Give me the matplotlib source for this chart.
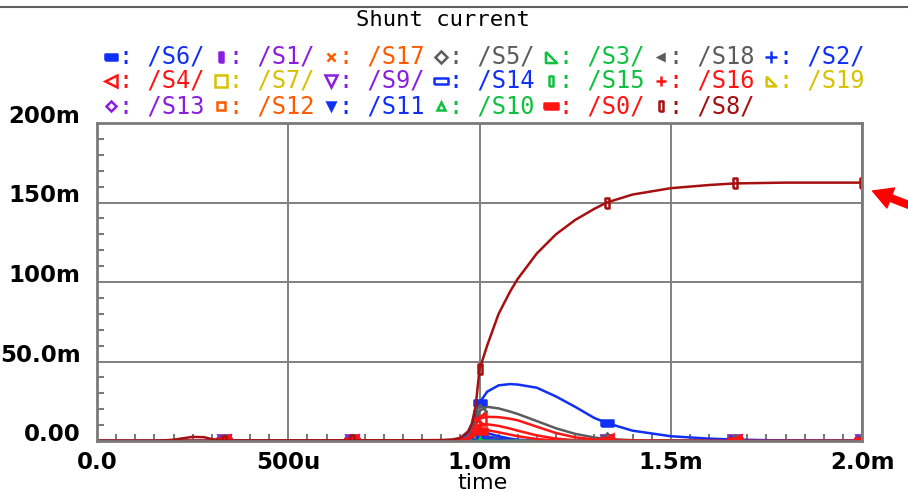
import matplotlib
matplotlib.use("Agg")
import matplotlib.pyplot as plt
from matplotlib.lines import Line2D
from matplotlib.ticker import MultipleLocator

W, H = 908, 492

# time axis in ms, currents in mA
t_ms = [0.0, 0.15, 0.2, 0.25, 0.28, 0.3, 0.333, 0.5,
        0.667, 0.8, 0.9, 0.93, 0.95, 0.97, 0.98, 0.99,
        1.0, 1.02, 1.05, 1.08, 1.1, 1.15, 1.2, 1.25,
        1.3, 1.333, 1.4, 1.5, 1.6, 1.667, 1.8, 2.0]

s8 = [0, 0, 0.8, 2.6, 2.4, 1.2, 0.3, 0.3,
      0.4, 0.4, 0.6, 1.0, 2.0, 6.0, 11, 22,
      45, 60, 80, 94, 102, 118, 130, 139,
      146, 150, 155, 159, 161, 162, 162.5, 162.5]
s6 = [0, 0, 0, 0, 0, 0, 0, 0,
      0, 0, 0, 0, 1.0, 5.0, 10, 17,
      24, 31, 35, 35.8, 35.5, 33.5, 28, 21.5,
      14.5, 11.3, 6.5, 3.0, 1.5, 0.9, 0.3, 0.1]
s5 = [0, 0, 0, 0, 0, 0, 0, 0,
      0, 0, 0, 0, 0.5, 3.0, 7.0, 13,
      19, 21.5, 20.5, 18.5, 17, 12.5, 8.0, 4.5,
      2.2, 1.3, 0.5, 0.1, 0, 0, 0, 0]
s4 = [0, 0, 0, 0, 0, 0, 0, 0,
      0, 0, 0, 0, 0.3, 2.0, 5.0, 10,
      14, 15.2, 15, 14, 13, 9.0, 5.0, 2.3,
      1.0, 0.5, 0.2, 0, 0, 0, 0, 0]
s16 = [0, 0, 0, 0, 0, 0, 0, 0,
       0, 0, 0, 0, 0, 1.5, 3.5, 7.0,
       10, 10.5, 9.5, 7.8, 6.5, 3.5, 1.5, 0.5,
       0.2, 0, 0, 0, 0, 0, 0, 0]
s0 = [0, 0, 0, 0, 0, 0, 0, 0,
      0, 0, 0, 0, 0, 1.0, 2.5, 4.5,
      6.5, 6.8, 5.5, 4.0, 3.0, 1.2, 0.4, 0,
      0, 0, 0, 0, 0, 0, 0, 0]
s2 = [0, 0, 0, 0, 0, 0, 0, 0,
      0, 0, 0, 0, 0, 1.0, 2.5, 4.0,
      5.5, 5.0, 3.0, 1.5, 0.8, 0.2, 0, 0,
      0, 0, 0, 0, 0, 0, 0, 0]
s14 = [0, 0, 0, 0, 0, 0, 0, 0,
       0, 0, 0, 0, 0, 0, 1.0, 2.0,
       3.0, 2.5, 1.2, 0.5, 0.2, 0, 0, 0,
       0, 0, 0, 0, 0, 0, 0, 0]
s11 = [0, 0, 0, 0, 0, 0, 0, 0,
       0, 0, 0, 0, 0, 0, 0, 0.8,
       1.5, 1.2, 0.5, 0, 0, 0, 0, 0,
       0, 0, 0, 0, 0, 0, 0, 0]
s18 = [0, 0, 0, 0, 0, 0, 0, 0,
       0, 0, 0, 0, 0, 0, 1.0, 2.0,
       3.0, 2.8, 1.8, 1.0, 0.5, 0, 0, 0,
       0, 0, 0, 0, 0, 0, 0, 0]
s9 = [0, 0, 0, 0, 0, 0, 0, 0,
      0, 0, 0, 0, 0, 0, 0, 1.0,
      2.0, 1.8, 1.0, 0.4, 0, 0, 0, 0,
      0, 0, 0, 0, 0, 0, 0, 0]
s1 = [0, 0, 0, 0, 0, 0, 0, 0,
      0, 0, 0, 0, 0, 0, 0, 0,
      1.2, 1.0, 0.5, 0, 0, 0, 0, 0,
      0, 0, 0, 0, 0, 0, 0, 0]
s13 = [0, 0, 0, 0, 0, 0, 0, 0,
       0, 0, 0, 0, 0, 0, 0, 0,
       0.8, 0.7, 0.3, 0, 0, 0, 0, 0,
       0, 0, 0, 0, 0, 0, 0, 0]
s17 = [0, 0, 0, 0, 0, 0, 0, 0,
       0, 0, 0, 0, 0, 0, 0, 0,
       1.0, 0.9, 0.4, 0, 0, 0, 0, 0,
       0, 0, 0, 0, 0, 0, 0, 0]
s12 = [0, 0, 0, 0, 0, 0, 0, 0,
       0, 0, 0, 0, 0, 0, 0, 0,
       1.5, 1.3, 0.6, 0, 0, 0, 0, 0,
       0, 0, 0, 0, 0, 0, 0, 0]
s3 = [0, 0, 0, 0, 0, 0, 0, 0,
      0, 0, 0, 0, 0, 0, 0, 0,
      0.6, 0.5, 0.2, 0, 0, 0, 0, 0,
      0, 0, 0, 0, 0, 0, 0, 0]
s15 = [0, 0, 0, 0, 0, 0, 0, 0,
       0, 0, 0, 0, 0, 0, 0, 0,
       0.4, 0.3, 0.1, 0, 0, 0, 0, 0,
       0, 0, 0, 0, 0, 0, 0, 0]
s10 = [0, 0, 0, 0, 0, 0, 0, 0,
       0, 0, 0, 0, 0, 0, 0, 0,
       0.3, 0.2, 0, 0, 0, 0, 0, 0,
       0, 0, 0, 0, 0, 0, 0, 0]
s7 = [0, 0, 0, 0, 0, 0, 0, 0,
      0, 0, 0, 0, 0, 0, 0, 0,
      0.5, 0.4, 0.1, 0, 0, 0, 0, 0,
      0, 0, 0, 0, 0, 0, 0, 0]
s19 = [0, 0, 0, 0, 0, 0, 0, 0,
       0, 0, 0, 0, 0, 0, 0, 0,
       0.3, 0.2, 0, 0, 0, 0, 0, 0,
       0, 0, 0, 0, 0, 0, 0, 0]

marker_idx = [6, 8, 16, 25, 29, 31]  # every 1/3 ms

x_ticks = [0.0, 0.5, 1.0, 1.5, 2.0]
x_labels = ["0.0", "500u", "1.0m", "1.5m", "2.0m"]
y_ticks = [0, 50, 100, 150, 200]
y_labels = ["0.00", "50.0m", "100m", "150m", "200m"]

BLUE = "#1030f5"
PURPLE = "#8a1ee0"
ORANGE = "#ff5a00"
GRAY = "#5c5c5c"
GREEN = "#10c040"
YELLOW = "#d6c200"
RED = "#ff1414"
DARKRED = "#a51010"

HBAR = [(-1, -0.45), (1, -0.45), (1, 0.45), (-1, 0.45), (-1, -0.45)]
VBAR = [(-0.5, -1), (0.5, -1), (0.5, 1), (-0.5, 1), (-0.5, -1)]
CORNER = [(-1, 1), (-1, -1), (1, -1), (-1, 1)]

# legend order (row by row, 7 per row)
series = [
    ("/S6/", s6, BLUE, HBAR, True, 9),
    ("/S1/", s1, PURPLE, VBAR, True, 7),
    ("/S17", s17, ORANGE, "x", True, 6),
    ("/S5/", s5, GRAY, "D", False, 6),
    ("/S3/", s3, GREEN, CORNER, False, 8),
    ("/S18", s18, GRAY, "<", True, 5),
    ("/S2/", s2, BLUE, "+", True, 9),
    ("/S4/", s4, RED, "<", False, 8),
    ("/S7/", s7, YELLOW, "s", False, 8),
    ("/S9/", s9, PURPLE, "v", False, 8),
    ("/S14", s14, BLUE, HBAR, False, 10),
    ("/S15", s15, GREEN, VBAR, False, 7),
    ("/S16", s16, RED, "+", True, 7),
    ("/S19", s19, YELLOW, CORNER, False, 7),
    ("/S13", s13, PURPLE, "D", False, 5),
    ("/S12", s12, ORANGE, "s", False, 6),
    ("/S11", s11, BLUE, "v", True, 6),
    ("/S10", s10, GREEN, "^", False, 6),
    ("/S0/", s0, RED, HBAR, True, 10),
    ("/S8/", s8, DARKRED, VBAR, False, 7),
]
on_top = ["/S6/", "/S5/", "/S4/", "/S16/", "/S0/", "/S8/"]
row_y = [57, 81, 106]


def mstyle(color, marker, filled, ms):
    return dict(marker=marker, markersize=ms, markeredgecolor=color,
                markerfacecolor=color if filled else "none", markeredgewidth=1.8)


fig = plt.figure(figsize=(W / 100, H / 100), dpi=100)
ax = fig.add_axes([97 / W, 1 - 441 / H, (862 - 97) / W, (441 - 123) / H])

order = [s for s in series if s[0] not in on_top] + [s for s in series if s[0] in on_top]
for name, vals, color, marker, filled, ms in order:
    ax.plot(t_ms, vals, color=color, lw=1.8, markevery=marker_idx,
            **mstyle(color, marker, filled, ms))

ax.set_xlim(0, 2.0)
ax.set_ylim(0, 200)
ax.grid(True, color="#808080", lw=1.4)
ax.set_axisbelow(True)
for sp in ax.spines.values():
    sp.set_color("#7a7a7a")
    sp.set_linewidth(2)

ax.set_xticks(x_ticks, x_labels, fontsize=16.5, fontweight="bold")
ax.set_yticks(y_ticks, y_labels, fontsize=16.5, fontweight="bold", va="baseline")
ax.xaxis.set_minor_locator(MultipleLocator(0.05))
ax.yaxis.set_minor_locator(MultipleLocator(10))
ax.tick_params(axis="x", which="major", length=0, pad=7)
ax.tick_params(axis="y", which="major", length=0, pad=12)
ax.tick_params(which="minor", direction="in", length=5, width=1.5, color="#7a7a7a")

# title, legend, x label
fig.text(443 / W, 1 - 20 / H, "Shunt current", family="DejaVu Sans Mono",
         fontsize=16, ha="center", va="center")
fig.text(482 / W, 1 - 483 / H, "time", fontsize=16, ha="center", va="center")

for i, (name, vals, color, marker, filled, ms) in enumerate(series):
    col, row = i % 7, i // 7
    x = 111 + 110 * col
    y = row_y[row]
    fig.add_artist(Line2D([x / W], [1 - y / H], transform=fig.transFigure,
                          linestyle="none", **mstyle(color, marker, filled, ms)))
    fig.text((x + 8) / W, 1 - y / H, ": " + name, color=color,
             family="DejaVu Sans Mono", fontsize=17, va="center")

# window border and the arrow pointing at the S8 end value
fig.add_artist(Line2D([0, 1], [1 - 7 / H, 1 - 7 / H], transform=fig.transFigure,
                      color="#606060", lw=1.5))
ax.annotate("", xy=(870, H - 190), xycoords="figure pixels",
            xytext=(914, H - 207), textcoords="figure pixels",
            arrowprops=dict(arrowstyle="simple,head_width=1.1,head_length=1.0,tail_width=0.35",
                            color="red", mutation_scale=14),
            annotation_clip=False)

fig.savefig("out.png", dpi=100)
